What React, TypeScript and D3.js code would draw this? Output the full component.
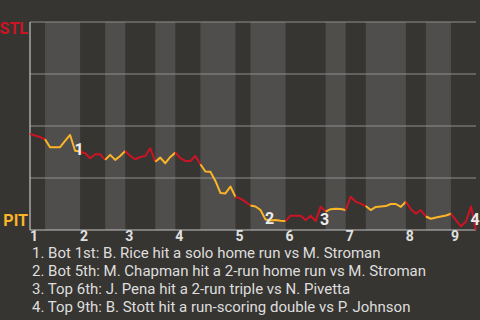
import React from 'react';
import * as d3 from 'd3';

// Plate appearances per half-inning (Top 1st, Bot 1st, ... Top 9th)
const halfInningPAs = [3, 7, 5, 4, 6, 4, 5, 7, 3, 7, 8, 4, 4, 8, 4, 5, 5];
const inningLabels = ['1', '2', '3', '4', '5', '6', '7', '8', '9'];

// STL win probability (%) after each plate appearance (index 0 = game start)
const stlWinProb = [
  46.2, 45.4, 44.7, 43.6, 39.8, 39.8, 39.8, 42.8, 45.7, 38.1,
  37.7, 36.9, 34.5, 36.4, 36.4, 33.7, 36.1, 33.7, 35.6, 38.0,
  35.6, 34.0, 35.1, 35.6, 39.3, 32.8, 34.8, 32.1, 35.1, 37.2,
  34.5, 33.2, 33.2, 35.6, 31.6, 28.1, 28.0, 23.6, 17.8, 17.6,
  20.9, 15.9, 15.1, 13.5, 11.8, 11.3, 9.6, 5.0, 4.6, 4.8,
  4.5, 4.3, 6.9, 6.9, 6.9, 4.8, 6.9, 4.3, 11.2, 8.8,
  10.0, 10.2, 10.1, 9.6, 16.0, 13.6, 12.7, 11.5, 9.6, 11.1,
  11.3, 11.5, 12.5, 12.5, 11.1, 13.6, 10.0, 7.9, 9.6, 6.5,
  5.4, 6.0, 6.5, 7.0, 7.8, 4.8, 1.8, 4.1, 11.3, 0.0,
];

const eventIndex = [9, 47, 58, 88];
const eventText = [
  '1. Bot 1st: B. Rice hit a solo home run vs M. Stroman',
  '2. Bot 5th: M. Chapman hit a 2-run home run vs M. Stroman',
  '3. Top 6th: J. Pena hit a 2-run triple vs N. Pivetta',
  '4. Top 9th: B. Stott hit a run-scoring double vs P. Johnson',
];

const teamTop = 'STL';
const teamBottom = 'PIT';

const W = 480;
const H = 320;
const BG = '#373531';
const BAND = '#4f4e4c';
const RED = '#cc1424';
const GOLD = '#fbb526';
const FONT = 'Roboto, "Noto Sans", sans-serif';

export default function App() {
  const left = 30;
  const right = 476;
  const top = 22;
  const bottom = 230;

  const cum = [0];
  halfInningPAs.forEach((n) => cum.push(cum[cum.length - 1] + n));
  const total = cum[cum.length - 1];

  const x = d3.scaleLinear().domain([0, total]).range([left, right]);
  const y = d3.scaleLinear().domain([0, 100]).range([bottom, top]);
  const grid = [25, 50, 75, 100];

  const segPath = (h: number) => {
    const pts: [number, number][] = [];
    for (let i = cum[h]; i <= cum[h + 1]; i++) pts.push([x(i), y(stlWinProb[i])]);
    return d3.line()(pts) as string;
  };

  return (
    <svg
      width={W}
      height={H}
      style={{ position: 'fixed', left: 0, top: 0, background: BG }}
      fontFamily={FONT}
    >
      <rect x={0} y={0} width={W} height={H} fill={BG} />
      {halfInningPAs.map((_, h) =>
        h % 2 === 1 ? (
          <rect
            key={'b' + h}
            x={x(cum[h])}
            y={top}
            width={x(cum[h + 1]) - x(cum[h])}
            height={bottom - top}
            fill={BAND}
          />
        ) : null
      )}
      {grid.map((g) => (
        <line key={'g' + g} x1={left} x2={right} y1={y(g)} y2={y(g)} stroke="#8f8f8f" strokeWidth={1} />
      ))}
      <line x1={left} x2={left} y1={top} y2={bottom} stroke="#c4c4c4" strokeWidth={1.2} />
      <line x1={left} x2={right} y1={bottom} y2={bottom} stroke="#c4c4c4" strokeWidth={1.2} />
      {halfInningPAs.map((_, h) => (
        <path
          key={'s' + h}
          d={segPath(h)}
          fill="none"
          stroke={h % 2 === 0 ? RED : GOLD}
          strokeWidth={2}
          strokeLinejoin="round"
        />
      ))}
      {eventIndex.map((ei, k) => {
        const py = Math.max(y(stlWinProb[ei]), y(stlWinProb[ei - 1]));
        return (
          <text
            key={'e' + k}
            x={x(ei) + 4}
            y={py - 1.5}
            textAnchor="middle"
            dominantBaseline="central"
            fontSize={16}
            fontWeight="bold"
            fill="#ececec"
          >
            {k + 1}
          </text>
        );
      })}
      <text x={28} y={34} textAnchor="end" fontSize={16} fontWeight="bold" fill={RED}>
        {teamTop}
      </text>
      <text x={28} y={226} textAnchor="end" fontSize={16} fontWeight="bold" fill={GOLD}>
        {teamBottom}
      </text>
      {inningLabels.map((lab, k) => (
        <text key={'i' + k} x={x(cum[k * 2])} y={240.5} fontSize={14} fontWeight="bold" fill="#e0e0e0">
          {lab}
        </text>
      ))}
      {eventText.map((t, k) => (
        <text key={'t' + k} x={32} y={258 + k * 18} fontSize={15} fill="#dedede">
          {t}
        </text>
      ))}
    </svg>
  );
}
